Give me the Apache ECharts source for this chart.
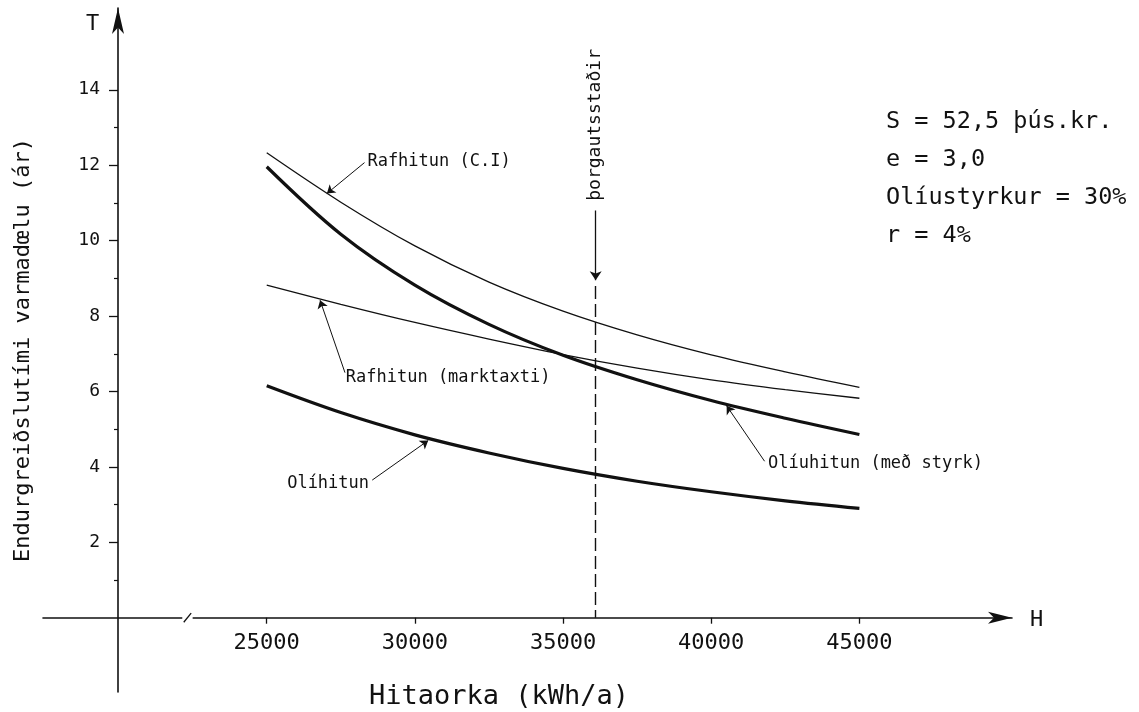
<!DOCTYPE html>
<html>
<head>
<meta charset="utf-8">
<script src="https://cdn.jsdelivr.net/npm/echarts@6/dist/echarts.min.js"></script>
<style>html,body{margin:0;padding:0;background:#fff}#c{width:1139px;height:712px}</style>
</head>
<body>
<div id="c"></div>
<script>
// ---- data ----
const hValues = [25000, 27500, 30000, 32500, 35000, 37500, 40000, 42500, 45000];
const rafhitunCI = [12.33, 11.02, 9.86, 8.90, 8.13, 7.50, 6.97, 6.52, 6.11];
const oliuhitunStyrk = [11.96, 10.17, 8.82, 7.78, 6.96, 6.31, 5.76, 5.29, 4.86];
const rafhitunMarktaxti = [8.82, 8.31, 7.83, 7.39, 6.98, 6.62, 6.31, 6.05, 5.82];
const olihitun = [6.15, 5.44, 4.85, 4.37, 3.96, 3.62, 3.34, 3.10, 2.90];
const xTickValues = [25000, 30000, 35000, 40000, 45000];
const yLabelValues = [2, 4, 6, 8, 10, 12, 14];
const yMinorTickValues = [1, 3, 5, 7, 9, 11, 13];
const siteH = 36100;
const siteName = 'þorgautsstaðir';
const paramLines = ['S = 52,5 þús.kr.', 'e = 3,0', 'Olíustyrkur = 30%', 'r = 4%'];

const FONT = 'DejaVu Sans Mono';
const BLACK = '#111';
const pair = a => hValues.map((h, i) => [h, a[i]]);

function leader(from, to) {
  return [{ coord: from, symbol: 'none' }, { coord: to, symbol: 'arrow', symbolSize: 8 }];
}
function note(coord, text, pos) {
  return {
    coord: coord, symbol: 'circle', symbolSize: 0,
    label: { show: true, position: pos, distance: 2, formatter: text,
      fontFamily: FONT, fontSize: 17, color: BLACK }
  };
}
const thin = { color: BLACK, width: 1.3 };
const bold = { color: BLACK, width: 3.2 };
const Y_MIN = -1.97, Y_MAX = 16.17;

const chart = echarts.init(document.getElementById('c'), null, { renderer: 'canvas' });
chart.setOption({
  animation: false,
  backgroundColor: '#fff',
  grid: { left: 43, right: 127, top: 8, bottom: 20, containLabel: false },
  title: [
    { text: 'T', left: 86, top: 13, padding: 0, textStyle: { fontFamily: FONT, fontSize: 22, fontWeight: 'normal', color: BLACK } },
    { text: 'H', left: 1030, top: 609, padding: 0, textStyle: { fontFamily: FONT, fontSize: 22, fontWeight: 'normal', color: BLACK } },
    { text: 'Hitaorka (kWh/a)', left: 369, top: 683, padding: 0, textStyle: { fontFamily: FONT, fontSize: 27, fontWeight: 'normal', color: BLACK } },
    { text: paramLines.join('\n'), left: 886, top: 103, padding: 0,
      textStyle: { fontFamily: FONT, fontSize: 23.5, lineHeight: 38, fontWeight: 'normal', color: BLACK } }
  ],
  xAxis: {
    type: 'value', min: 17450, max: 50150, position: 'bottom', offset: -74.3,
    splitLine: { show: false },
    axisLine: { show: true, onZero: false, symbol: ['none', 'arrow'], symbolSize: [9, 24],
      lineStyle: { color: BLACK, width: 1.6 } },
    axisTick: { show: true, customValues: xTickValues, length: 6, lineStyle: { color: BLACK, width: 1.3 } },
    axisLabel: { show: true, customValues: xTickValues, margin: 15,
      fontFamily: FONT, fontSize: 22, color: BLACK, formatter: v => String(v) }
  },
  yAxis: [
    {
      type: 'value', min: Y_MIN, max: Y_MAX, position: 'left', offset: -75,
      splitLine: { show: false },
      axisLine: { show: true, onZero: false, symbol: ['none', 'arrow'], symbolSize: [9, 26],
        lineStyle: { color: BLACK, width: 1.6 } },
      axisTick: { show: true, customValues: yLabelValues, length: 9, lineStyle: { color: BLACK, width: 1.3 } },
      axisLabel: { show: true, customValues: yLabelValues, margin: 18,
        fontFamily: FONT, fontSize: 18, color: BLACK },
      name: 'Endurgreiðslutími varmadœlu (ár)', nameLocation: 'middle', nameGap: 84,
      nameTextStyle: { fontFamily: FONT, fontSize: 22, color: BLACK }
    },
    {
      type: 'value', min: Y_MIN, max: Y_MAX, position: 'left', offset: -75,
      splitLine: { show: false },
      axisLine: { show: false },
      axisTick: { show: true, customValues: yMinorTickValues, length: 4, lineStyle: { color: BLACK, width: 1.2 } },
      axisLabel: { show: false }
    }
  ],
  series: [
    {
      name: 'Rafhitun (C.I)', type: 'line', smooth: 0.35, symbol: 'none',
      data: pair(rafhitunCI), lineStyle: thin, z: 3,
      markLine: { silent: true, label: { show: false }, lineStyle: { color: BLACK, width: 1, type: 'solid' },
        data: [leader([28300, 12.07], [27030, 11.25])] },
      markPoint: { silent: true, data: [note([28330, 12.09], 'Rafhitun (C.I)', 'right')] }
    },
    {
      name: 'Olíuhitun (með styrk)', type: 'line', smooth: 0.35, symbol: 'none',
      data: pair(oliuhitunStyrk), lineStyle: bold, z: 3,
      markLine: { silent: true, label: { show: false }, lineStyle: { color: BLACK, width: 1, type: 'solid' },
        data: [leader([41800, 4.15], [40520, 5.62])] },
      markPoint: { silent: true, data: [note([41850, 4.1], 'Olíuhitun (með styrk)', 'right')] }
    },
    {
      name: 'Rafhitun (marktaxti)', type: 'line', smooth: 0.35, symbol: 'none',
      data: pair(rafhitunMarktaxti), lineStyle: thin, z: 3,
      markLine: { silent: true, label: { show: false }, lineStyle: { color: BLACK, width: 1, type: 'solid' },
        data: [leader([27640, 6.5], [26800, 8.42])] },
      markPoint: { silent: true, data: [note([27600, 6.38], 'Rafhitun (marktaxti)', 'right')] }
    },
    {
      name: 'Olíhitun', type: 'line', smooth: 0.35, symbol: 'none',
      data: pair(olihitun), lineStyle: bold, z: 3,
      markLine: { silent: true, label: { show: false }, lineStyle: { color: BLACK, width: 1, type: 'solid' },
        data: [leader([28560, 3.65], [30450, 4.7])] },
      markPoint: { silent: true, data: [note([28520, 3.57], 'Olíhitun', 'left')] }
    },
    {
      name: 'site', type: 'line', data: [], symbol: 'none', z: 4,
      markLine: {
        silent: true, label: { show: false }, symbol: 'none',
        data: [
          [{ coord: [siteH, 10.8], symbol: 'none', lineStyle: { type: 'solid', width: 1.3, color: BLACK } },
           { coord: [siteH, 8.95], symbol: 'arrow', symbolSize: 9 }],
          [{ coord: [siteH, 8.8], lineStyle: { type: [13, 5], width: 1.4, color: BLACK } },
           { coord: [siteH, 0] }],
          [{ coord: [22150, 0], lineStyle: { type: 'solid', width: 4, color: '#fff' } },
           { coord: [22500, 0] }],
          [{ coord: [22200, -0.12], lineStyle: { type: 'solid', width: 1.3, color: BLACK } },
           { coord: [22450, 0.12] }]
        ]
      },
      markPoint: {
        silent: true,
        data: [{ coord: [siteH, 13.07], symbol: 'circle', symbolSize: 0,
          label: { show: true, position: 'inside', rotate: 90, formatter: siteName,
            fontFamily: FONT, fontSize: 18, color: BLACK } }]
      }
    }
  ]
});
</script>
</body>
</html>
